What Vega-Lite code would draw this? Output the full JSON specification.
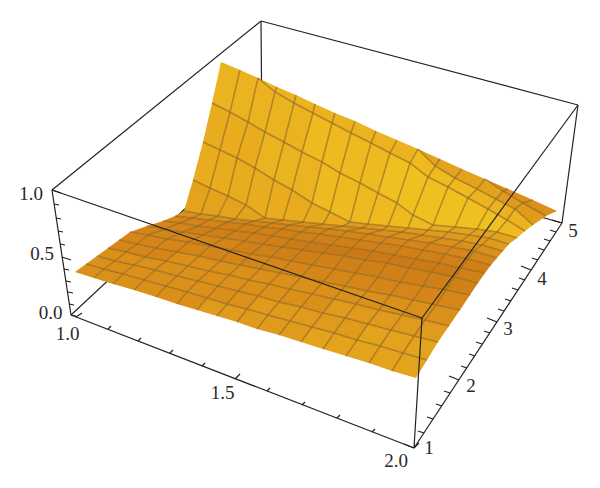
{"$schema":"https://vega.github.io/schema/vega-lite/v6.json","width":600,"height":488,"autosize":{"type":"fit","contains":"padding"},"padding":0,"background":"white","view":{"stroke":null},
"datasets":{
"edges":[
{"part":"back","x":52,"y":190,"x2":261,"y2":21},{"part":"back","x":261,"y":21,"x2":578,"y2":105},{"part":"back","x":261,"y":21,"x2":262,"y2":137},{"part":"back","x":71,"y":315,"x2":262,"y2":137},{"part":"back","x":262,"y":137,"x2":562,"y2":223},
{"part":"front","x":52,"y":190,"x2":422,"y2":318},{"part":"front","x":422,"y":318,"x2":578,"y2":105},{"part":"front","x":422,"y":318,"x2":414,"y2":448},{"part":"front","x":52,"y":190,"x2":71,"y2":315},{"part":"front","x":71,"y":315,"x2":414,"y2":448},{"part":"front","x":414,"y":448,"x2":562,"y2":223},{"part":"front","x":578,"y":105,"x2":562,"y2":223},
{"part":"tick","x":71,"y":315,"x2":76,"y2":316},{"part":"tick","x":69,"y":304,"x2":74,"y2":305},{"part":"tick","x":68,"y":292,"x2":73,"y2":293},{"part":"tick","x":66,"y":281,"x2":71,"y2":282},{"part":"tick","x":64,"y":269,"x2":69,"y2":270},{"part":"tick","x":62,"y":257,"x2":71,"y2":260},{"part":"tick","x":60,"y":244,"x2":65,"y2":245},{"part":"tick","x":58,"y":231,"x2":63,"y2":232},{"part":"tick","x":56,"y":218,"x2":61,"y2":219},{"part":"tick","x":54,"y":204,"x2":59,"y2":205},{"part":"tick","x":52,"y":190,"x2":61,"y2":193},
{"part":"tick","x":76,"y":317,"x2":82,"y2":313},{"part":"tick","x":108,"y":329,"x2":111,"y2":326},{"part":"tick","x":138,"y":341,"x2":141,"y2":338},{"part":"tick","x":170,"y":353,"x2":173,"y2":350},{"part":"tick","x":202,"y":366,"x2":205,"y2":363},{"part":"tick","x":235,"y":379,"x2":240,"y2":374},{"part":"tick","x":267,"y":391,"x2":270,"y2":388},{"part":"tick","x":302,"y":405,"x2":305,"y2":402},{"part":"tick","x":337,"y":418,"x2":340,"y2":415},{"part":"tick","x":372,"y":432,"x2":375,"y2":429},{"part":"tick","x":414,"y":448,"x2":419,"y2":443},
{"part":"tick","x":414,"y":448,"x2":404,"y2":444},{"part":"tick","x":424,"y":433,"x2":418,"y2":431},{"part":"tick","x":433,"y":419,"x2":427,"y2":417},{"part":"tick","x":442,"y":406,"x2":436,"y2":404},{"part":"tick","x":450,"y":393,"x2":444,"y2":391},{"part":"tick","x":459,"y":380,"x2":449,"y2":376},{"part":"tick","x":467,"y":368,"x2":461,"y2":366},{"part":"tick","x":475,"y":356,"x2":469,"y2":354},{"part":"tick","x":482,"y":344,"x2":476,"y2":342},{"part":"tick","x":490,"y":333,"x2":484,"y2":331},{"part":"tick","x":497,"y":322,"x2":487,"y2":318},{"part":"tick","x":504,"y":311,"x2":498,"y2":309},{"part":"tick","x":511,"y":301,"x2":505,"y2":299},{"part":"tick","x":518,"y":290,"x2":512,"y2":288},{"part":"tick","x":525,"y":280,"x2":519,"y2":278},{"part":"tick","x":531,"y":270,"x2":521,"y2":266},{"part":"tick","x":538,"y":260,"x2":532,"y2":258},{"part":"tick","x":544,"y":250,"x2":538,"y2":248},{"part":"tick","x":550,"y":241,"x2":544,"y2":239},{"part":"tick","x":556,"y":232,"x2":550,"y2":230},{"part":"tick","x":562,"y":223,"x2":552,"y2":220}
],
"labels":[{"label":"1.0","x":31,"y":194},{"label":"0.5","x":42,"y":254},{"label":"0.0","x":50.5,"y":313},{"label":"1.0","x":67.5,"y":334},{"label":"1.5","x":222.5,"y":393},{"label":"2.0","x":396,"y":461},{"label":"1","x":429,"y":448},{"label":"2","x":471,"y":386},{"label":"3","x":508,"y":329},{"label":"4","x":542,"y":279},{"label":"5","x":573,"y":231}],
"vertices":[
{"id":0,"i":0,"j":0,"x":75,"y":272},{"id":100,"i":1,"j":0,"x":94,"y":278},{"id":200,"i":2,"j":0,"x":113,"y":284},{"id":300,"i":3,"j":0,"x":134,"y":290},{"id":400,"i":4,"j":0,"x":156,"y":297},{"id":500,"i":5,"j":0,"x":177,"y":304},{"id":600,"i":6,"j":0,"x":197,"y":310},{"id":700,"i":7,"j":0,"x":217,"y":316},{"id":800,"i":8,"j":0,"x":237,"y":322},{"id":900,"i":9,"j":0,"x":257,"y":329},{"id":1000,"i":10,"j":0,"x":279,"y":335},{"id":1100,"i":11,"j":0,"x":301,"y":342},{"id":1200,"i":12,"j":0,"x":323,"y":349},{"id":1300,"i":13,"j":0,"x":346,"y":356},{"id":1400,"i":14,"j":0,"x":369,"y":363},{"id":1500,"i":15,"j":0,"x":392,"y":371},{"id":1600,"i":16,"j":0,"x":416,"y":378},
{"id":1,"i":0,"j":1,"x":86,"y":264},{"id":101,"i":1,"j":1,"x":104,"y":269},{"id":201,"i":2,"j":1,"x":123,"y":274},{"id":301,"i":3,"j":1,"x":144,"y":280},{"id":401,"i":4,"j":1,"x":166,"y":286},{"id":501,"i":5,"j":1,"x":187,"y":292},{"id":601,"i":6,"j":1,"x":207,"y":298},{"id":701,"i":7,"j":1,"x":227,"y":304},{"id":801,"i":8,"j":1,"x":247,"y":309},{"id":901,"i":9,"j":1,"x":268,"y":315},{"id":1001,"i":10,"j":1,"x":290,"y":321},{"id":1101,"i":11,"j":1,"x":312,"y":327},{"id":1201,"i":12,"j":1,"x":334,"y":333},{"id":1301,"i":13,"j":1,"x":357,"y":340},{"id":1401,"i":14,"j":1,"x":380,"y":346},{"id":1501,"i":15,"j":1,"x":403,"y":353},{"id":1601,"i":16,"j":1,"x":427,"y":360},
{"id":2,"i":0,"j":2,"x":97,"y":256},{"id":102,"i":1,"j":2,"x":115,"y":261},{"id":202,"i":2,"j":2,"x":134,"y":265},{"id":302,"i":3,"j":2,"x":155,"y":270},{"id":402,"i":4,"j":2,"x":177,"y":276},{"id":502,"i":5,"j":2,"x":198,"y":281},{"id":602,"i":6,"j":2,"x":218,"y":286},{"id":702,"i":7,"j":2,"x":238,"y":291},{"id":802,"i":8,"j":2,"x":258,"y":296},{"id":902,"i":9,"j":2,"x":279,"y":302},{"id":1002,"i":10,"j":2,"x":301,"y":307},{"id":1102,"i":11,"j":2,"x":323,"y":313},{"id":1202,"i":12,"j":2,"x":345,"y":318},{"id":1302,"i":13,"j":2,"x":368,"y":324},{"id":1402,"i":14,"j":2,"x":391,"y":330},{"id":1502,"i":15,"j":2,"x":414,"y":336},{"id":1602,"i":16,"j":2,"x":438,"y":342},
{"id":3,"i":0,"j":3,"x":108,"y":248},{"id":103,"i":1,"j":3,"x":126,"y":252},{"id":203,"i":2,"j":3,"x":145,"y":257},{"id":303,"i":3,"j":3,"x":166,"y":261},{"id":403,"i":4,"j":3,"x":188,"y":266},{"id":503,"i":5,"j":3,"x":209,"y":271},{"id":603,"i":6,"j":3,"x":229,"y":275},{"id":703,"i":7,"j":3,"x":249,"y":280},{"id":803,"i":8,"j":3,"x":269,"y":284},{"id":903,"i":9,"j":3,"x":290,"y":289},{"id":1003,"i":10,"j":3,"x":312,"y":294},{"id":1103,"i":11,"j":3,"x":334,"y":299},{"id":1203,"i":12,"j":3,"x":356,"y":304},{"id":1303,"i":13,"j":3,"x":379,"y":310},{"id":1403,"i":14,"j":3,"x":402,"y":315},{"id":1503,"i":15,"j":3,"x":425,"y":320},{"id":1603,"i":16,"j":3,"x":449,"y":326},
{"id":4,"i":0,"j":4,"x":119,"y":240},{"id":104,"i":1,"j":4,"x":137,"y":244},{"id":204,"i":2,"j":4,"x":156,"y":248},{"id":304,"i":3,"j":4,"x":177,"y":252},{"id":404,"i":4,"j":4,"x":199,"y":256},{"id":504,"i":5,"j":4,"x":220,"y":261},{"id":604,"i":6,"j":4,"x":240,"y":265},{"id":704,"i":7,"j":4,"x":260,"y":269},{"id":804,"i":8,"j":4,"x":280,"y":273},{"id":904,"i":9,"j":4,"x":301,"y":277},{"id":1004,"i":10,"j":4,"x":323,"y":282},{"id":1104,"i":11,"j":4,"x":345,"y":286},{"id":1204,"i":12,"j":4,"x":367,"y":291},{"id":1304,"i":13,"j":4,"x":390,"y":295},{"id":1404,"i":14,"j":4,"x":413,"y":300},{"id":1504,"i":15,"j":4,"x":436,"y":305},{"id":1604,"i":16,"j":4,"x":460,"y":310},
{"id":5,"i":0,"j":5,"x":130,"y":232},{"id":105,"i":1,"j":5,"x":148,"y":235},{"id":205,"i":2,"j":5,"x":167,"y":239},{"id":305,"i":3,"j":5,"x":188,"y":242},{"id":405,"i":4,"j":5,"x":210,"y":246},{"id":505,"i":5,"j":5,"x":231,"y":250},{"id":605,"i":6,"j":5,"x":251,"y":254},{"id":705,"i":7,"j":5,"x":271,"y":257},{"id":805,"i":8,"j":5,"x":291,"y":261},{"id":905,"i":9,"j":5,"x":312,"y":265},{"id":1005,"i":10,"j":5,"x":334,"y":269},{"id":1105,"i":11,"j":5,"x":355,"y":273},{"id":1205,"i":12,"j":5,"x":378,"y":277},{"id":1305,"i":13,"j":5,"x":400,"y":282},{"id":1405,"i":14,"j":5,"x":423,"y":286},{"id":1505,"i":15,"j":5,"x":446,"y":290},{"id":1605,"i":16,"j":5,"x":470,"y":295},
{"id":6,"i":0,"j":6,"x":147,"y":226},{"id":106,"i":1,"j":6,"x":165,"y":229},{"id":206,"i":2,"j":6,"x":183,"y":232},{"id":306,"i":3,"j":6,"x":203,"y":235},{"id":406,"i":4,"j":6,"x":224,"y":238},{"id":506,"i":5,"j":6,"x":244,"y":241},{"id":606,"i":6,"j":6,"x":263,"y":244},{"id":706,"i":7,"j":6,"x":282,"y":247},{"id":806,"i":8,"j":6,"x":302,"y":250},{"id":906,"i":9,"j":6,"x":323,"y":253},{"id":1006,"i":10,"j":6,"x":344,"y":256},{"id":1106,"i":11,"j":6,"x":365,"y":260},{"id":1206,"i":12,"j":6,"x":387,"y":263},{"id":1306,"i":13,"j":6,"x":409,"y":268},{"id":1406,"i":14,"j":6,"x":431,"y":272},{"id":1506,"i":15,"j":6,"x":454,"y":277},{"id":1606,"i":16,"j":6,"x":478,"y":283},
{"id":7,"i":0,"j":7,"x":163,"y":221},{"id":107,"i":1,"j":7,"x":180,"y":223},{"id":207,"i":2,"j":7,"x":198,"y":226},{"id":307,"i":3,"j":7,"x":216,"y":228},{"id":407,"i":4,"j":7,"x":235,"y":231},{"id":507,"i":5,"j":7,"x":254,"y":233},{"id":607,"i":6,"j":7,"x":272,"y":236},{"id":707,"i":7,"j":7,"x":291,"y":239},{"id":807,"i":8,"j":7,"x":311,"y":242},{"id":907,"i":9,"j":7,"x":331,"y":245},{"id":1007,"i":10,"j":7,"x":352,"y":248},{"id":1107,"i":11,"j":7,"x":373,"y":251},{"id":1207,"i":12,"j":7,"x":394,"y":255},{"id":1307,"i":13,"j":7,"x":416,"y":259},{"id":1407,"i":14,"j":7,"x":439,"y":263},{"id":1507,"i":15,"j":7,"x":461,"y":268},{"id":1607,"i":16,"j":7,"x":485,"y":273},
{"id":8,"i":0,"j":8,"x":175,"y":216},{"id":108,"i":1,"j":8,"x":192,"y":218},{"id":208,"i":2,"j":8,"x":209,"y":220},{"id":308,"i":3,"j":8,"x":227,"y":222},{"id":408,"i":4,"j":8,"x":245,"y":224},{"id":508,"i":5,"j":8,"x":264,"y":227},{"id":608,"i":6,"j":8,"x":282,"y":229},{"id":708,"i":7,"j":8,"x":301,"y":232},{"id":808,"i":8,"j":8,"x":320,"y":234},{"id":908,"i":9,"j":8,"x":340,"y":237},{"id":1008,"i":10,"j":8,"x":360,"y":240},{"id":1108,"i":11,"j":8,"x":381,"y":243},{"id":1208,"i":12,"j":8,"x":402,"y":246},{"id":1308,"i":13,"j":8,"x":423,"y":250},{"id":1408,"i":14,"j":8,"x":445,"y":254},{"id":1508,"i":15,"j":8,"x":468,"y":259},{"id":1608,"i":16,"j":8,"x":491,"y":265},
{"id":9,"i":0,"j":9,"x":184,"y":211},{"id":109,"i":1,"j":9,"x":201,"y":214},{"id":209,"i":2,"j":9,"x":218,"y":216},{"id":309,"i":3,"j":9,"x":235,"y":219},{"id":409,"i":4,"j":9,"x":254,"y":221},{"id":509,"i":5,"j":9,"x":272,"y":223},{"id":609,"i":6,"j":9,"x":290,"y":225},{"id":709,"i":7,"j":9,"x":309,"y":227},{"id":809,"i":8,"j":9,"x":328,"y":229},{"id":909,"i":9,"j":9,"x":347,"y":231},{"id":1009,"i":10,"j":9,"x":368,"y":234},{"id":1109,"i":11,"j":9,"x":388,"y":237},{"id":1209,"i":12,"j":9,"x":409,"y":240},{"id":1309,"i":13,"j":9,"x":430,"y":243},{"id":1409,"i":14,"j":9,"x":452,"y":247},{"id":1509,"i":15,"j":9,"x":474,"y":251},{"id":1609,"i":16,"j":9,"x":497,"y":258},
{"id":10,"i":0,"j":10,"x":193,"y":180},{"id":110,"i":1,"j":10,"x":210,"y":188},{"id":210,"i":2,"j":10,"x":228,"y":196},{"id":310,"i":3,"j":10,"x":246,"y":205},{"id":410,"i":4,"j":10,"x":265,"y":218},{"id":510,"i":5,"j":10,"x":283,"y":220},{"id":610,"i":6,"j":10,"x":303,"y":222},{"id":710,"i":7,"j":10,"x":323,"y":224},{"id":810,"i":8,"j":10,"x":343,"y":226},{"id":910,"i":9,"j":10,"x":362,"y":228},{"id":1010,"i":10,"j":10,"x":382,"y":230},{"id":1110,"i":11,"j":10,"x":402,"y":232},{"id":1210,"i":12,"j":10,"x":422,"y":235},{"id":1310,"i":13,"j":10,"x":442,"y":238},{"id":1410,"i":14,"j":10,"x":462,"y":241},{"id":1510,"i":15,"j":10,"x":482,"y":245},{"id":1610,"i":16,"j":10,"x":503,"y":251},
{"id":11,"i":0,"j":11,"x":203,"y":142},{"id":111,"i":1,"j":11,"x":220,"y":150},{"id":211,"i":2,"j":11,"x":237,"y":158},{"id":311,"i":3,"j":11,"x":255,"y":168},{"id":411,"i":4,"j":11,"x":274,"y":180},{"id":511,"i":5,"j":11,"x":292,"y":190},{"id":611,"i":6,"j":11,"x":312,"y":203},{"id":711,"i":7,"j":11,"x":330,"y":212},{"id":811,"i":8,"j":11,"x":350,"y":222},{"id":911,"i":9,"j":11,"x":368,"y":224},{"id":1011,"i":10,"j":11,"x":388,"y":226},{"id":1111,"i":11,"j":11,"x":408,"y":228},{"id":1211,"i":12,"j":11,"x":428,"y":230},{"id":1311,"i":13,"j":11,"x":448,"y":232},{"id":1411,"i":14,"j":11,"x":469,"y":235},{"id":1511,"i":15,"j":11,"x":489,"y":238},{"id":1611,"i":16,"j":11,"x":509,"y":244},
{"id":12,"i":0,"j":12,"x":212,"y":103},{"id":112,"i":1,"j":12,"x":230,"y":112},{"id":212,"i":2,"j":12,"x":248,"y":122},{"id":312,"i":3,"j":12,"x":265,"y":132},{"id":412,"i":4,"j":12,"x":284,"y":142},{"id":512,"i":5,"j":12,"x":302,"y":152},{"id":612,"i":6,"j":12,"x":322,"y":162},{"id":712,"i":7,"j":12,"x":340,"y":173},{"id":812,"i":8,"j":12,"x":360,"y":183},{"id":912,"i":9,"j":12,"x":378,"y":193},{"id":1012,"i":10,"j":12,"x":397,"y":203},{"id":1112,"i":11,"j":12,"x":413,"y":215},{"id":1212,"i":12,"j":12,"x":433,"y":225},{"id":1312,"i":13,"j":12,"x":455,"y":227},{"id":1412,"i":14,"j":12,"x":477,"y":229},{"id":1512,"i":15,"j":12,"x":497,"y":232},{"id":1612,"i":16,"j":12,"x":517,"y":238},
{"id":13,"i":0,"j":13,"x":221,"y":62},{"id":113,"i":1,"j":13,"x":240,"y":70},{"id":213,"i":2,"j":13,"x":258,"y":78},{"id":313,"i":3,"j":13,"x":275,"y":92},{"id":413,"i":4,"j":13,"x":294,"y":103},{"id":513,"i":5,"j":13,"x":313,"y":113},{"id":613,"i":6,"j":13,"x":332,"y":123},{"id":713,"i":7,"j":13,"x":351,"y":133},{"id":813,"i":8,"j":13,"x":371,"y":143},{"id":913,"i":9,"j":13,"x":390,"y":153},{"id":1013,"i":10,"j":13,"x":410,"y":163},{"id":1113,"i":11,"j":13,"x":428,"y":177},{"id":1213,"i":12,"j":13,"x":448,"y":187},{"id":1313,"i":13,"j":13,"x":468,"y":198},{"id":1413,"i":14,"j":13,"x":488,"y":209},{"id":1513,"i":15,"j":13,"x":507,"y":220},{"id":1613,"i":16,"j":13,"x":525,"y":231},
{"id":214,"i":2,"j":14,"x":258,"y":78},{"id":314,"i":3,"j":14,"x":277,"y":87},{"id":414,"i":4,"j":14,"x":296,"y":95},{"id":514,"i":5,"j":14,"x":315,"y":104},{"id":614,"i":6,"j":14,"x":335,"y":113},{"id":714,"i":7,"j":14,"x":355,"y":121},{"id":814,"i":8,"j":14,"x":376,"y":131},{"id":914,"i":9,"j":14,"x":397,"y":140},{"id":1014,"i":10,"j":14,"x":418,"y":149},{"id":1114,"i":11,"j":14,"x":435,"y":166},{"id":1214,"i":12,"j":14,"x":455,"y":178},{"id":1314,"i":13,"j":14,"x":477,"y":189},{"id":1414,"i":14,"j":14,"x":496,"y":199},{"id":1514,"i":15,"j":14,"x":515,"y":209},{"id":1614,"i":16,"j":14,"x":533,"y":225},
{"id":1015,"i":10,"j":15,"x":418,"y":149},{"id":1115,"i":11,"j":15,"x":440,"y":159},{"id":1215,"i":12,"j":15,"x":462,"y":169},{"id":1315,"i":13,"j":15,"x":485,"y":179},{"id":1415,"i":14,"j":15,"x":503,"y":191},{"id":1515,"i":15,"j":15,"x":523,"y":203},{"id":1615,"i":16,"j":15,"x":546,"y":216},
{"id":1316,"i":13,"j":16,"x":485,"y":179},{"id":1416,"i":14,"j":16,"x":508,"y":189},{"id":1516,"i":15,"j":16,"x":533,"y":200},{"id":1616,"i":16,"j":16,"x":557,"y":211}
],
"cells":[
{"c":0,"shade":3,"v":[0,100,101,1]},{"c":100,"shade":3,"v":[100,200,201,101]},{"c":200,"shade":3,"v":[200,300,301,201]},{"c":300,"shade":3,"v":[300,400,401,301]},{"c":400,"shade":3,"v":[400,500,501,401]},{"c":500,"shade":3,"v":[500,600,601,501]},{"c":600,"shade":4,"v":[600,700,701,601]},{"c":700,"shade":4,"v":[700,800,801,701]},{"c":800,"shade":4,"v":[800,900,901,801]},{"c":900,"shade":4,"v":[900,1000,1001,901]},{"c":1000,"shade":4,"v":[1000,1100,1101,1001]},{"c":1100,"shade":5,"v":[1100,1200,1201,1101]},{"c":1200,"shade":5,"v":[1200,1300,1301,1201]},{"c":1300,"shade":5,"v":[1300,1400,1401,1301]},{"c":1400,"shade":5,"v":[1400,1500,1501,1401]},{"c":1500,"shade":5,"v":[1500,1600,1601,1501]},
{"c":1,"shade":3,"v":[1,101,102,2]},{"c":101,"shade":3,"v":[101,201,202,102]},{"c":201,"shade":3,"v":[201,301,302,202]},{"c":301,"shade":3,"v":[301,401,402,302]},{"c":401,"shade":3,"v":[401,501,502,402]},{"c":501,"shade":3,"v":[501,601,602,502]},{"c":601,"shade":3,"v":[601,701,702,602]},{"c":701,"shade":3,"v":[701,801,802,702]},{"c":801,"shade":4,"v":[801,901,902,802]},{"c":901,"shade":4,"v":[901,1001,1002,902]},{"c":1001,"shade":4,"v":[1001,1101,1102,1002]},{"c":1101,"shade":4,"v":[1101,1201,1202,1102]},{"c":1201,"shade":4,"v":[1201,1301,1302,1202]},{"c":1301,"shade":5,"v":[1301,1401,1402,1302]},{"c":1401,"shade":5,"v":[1401,1501,1502,1402]},{"c":1501,"shade":5,"v":[1501,1601,1602,1502]},
{"c":2,"shade":3,"v":[2,102,103,3]},{"c":102,"shade":3,"v":[102,202,203,103]},{"c":202,"shade":3,"v":[202,302,303,203]},{"c":302,"shade":3,"v":[302,402,403,303]},{"c":402,"shade":3,"v":[402,502,503,403]},{"c":502,"shade":3,"v":[502,602,603,503]},{"c":602,"shade":3,"v":[602,702,703,603]},{"c":702,"shade":3,"v":[702,802,803,703]},{"c":802,"shade":3,"v":[802,902,903,803]},{"c":902,"shade":3,"v":[902,1002,1003,903]},{"c":1002,"shade":3,"v":[1002,1102,1103,1003]},{"c":1102,"shade":4,"v":[1102,1202,1203,1103]},{"c":1202,"shade":4,"v":[1202,1302,1303,1203]},{"c":1302,"shade":4,"v":[1302,1402,1403,1303]},{"c":1402,"shade":4,"v":[1402,1502,1503,1403]},{"c":1502,"shade":4,"v":[1502,1602,1603,1503]},
{"c":3,"shade":2,"v":[3,103,104,4]},{"c":103,"shade":2,"v":[103,203,204,104]},{"c":203,"shade":2,"v":[203,303,304,204]},{"c":303,"shade":3,"v":[303,403,404,304]},{"c":403,"shade":3,"v":[403,503,504,404]},{"c":503,"shade":3,"v":[503,603,604,504]},{"c":603,"shade":3,"v":[603,703,704,604]},{"c":703,"shade":3,"v":[703,803,804,704]},{"c":803,"shade":3,"v":[803,903,904,804]},{"c":903,"shade":3,"v":[903,1003,1004,904]},{"c":1003,"shade":3,"v":[1003,1103,1104,1004]},{"c":1103,"shade":3,"v":[1103,1203,1204,1104]},{"c":1203,"shade":3,"v":[1203,1303,1304,1204]},{"c":1303,"shade":3,"v":[1303,1403,1404,1304]},{"c":1403,"shade":3,"v":[1403,1503,1504,1404]},{"c":1503,"shade":3,"v":[1503,1603,1604,1504]},
{"c":4,"shade":2,"v":[4,104,105,5]},{"c":104,"shade":2,"v":[104,204,205,105]},{"c":204,"shade":2,"v":[204,304,305,205]},{"c":304,"shade":2,"v":[304,404,405,305]},{"c":404,"shade":2,"v":[404,504,505,405]},{"c":504,"shade":2,"v":[504,604,605,505]},{"c":604,"shade":2,"v":[604,704,705,605]},{"c":704,"shade":2,"v":[704,804,805,705]},{"c":804,"shade":2,"v":[804,904,905,805]},{"c":904,"shade":2,"v":[904,1004,1005,905]},{"c":1004,"shade":2,"v":[1004,1104,1105,1005]},{"c":1104,"shade":2,"v":[1104,1204,1205,1105]},{"c":1204,"shade":2,"v":[1204,1304,1305,1205]},{"c":1304,"shade":2,"v":[1304,1404,1405,1305]},{"c":1404,"shade":2,"v":[1404,1504,1505,1405]},{"c":1504,"shade":2,"v":[1504,1604,1605,1505]},
{"c":5,"shade":2,"v":[5,105,106,6]},{"c":105,"shade":2,"v":[105,205,206,106]},{"c":205,"shade":2,"v":[205,305,306,206]},{"c":305,"shade":2,"v":[305,405,406,306]},{"c":405,"shade":2,"v":[405,505,506,406]},{"c":505,"shade":1,"v":[505,605,606,506]},{"c":605,"shade":1,"v":[605,705,706,606]},{"c":705,"shade":1,"v":[705,805,806,706]},{"c":805,"shade":1,"v":[805,905,906,806]},{"c":905,"shade":1,"v":[905,1005,1006,906]},{"c":1005,"shade":1,"v":[1005,1105,1106,1006]},{"c":1105,"shade":1,"v":[1105,1205,1206,1106]},{"c":1205,"shade":1,"v":[1205,1305,1306,1206]},{"c":1305,"shade":1,"v":[1305,1405,1406,1306]},{"c":1405,"shade":1,"v":[1405,1505,1506,1406]},{"c":1505,"shade":1,"v":[1505,1605,1606,1506]},
{"c":6,"shade":2,"v":[6,106,107,7]},{"c":106,"shade":2,"v":[106,206,207,107]},{"c":206,"shade":1,"v":[206,306,307,207]},{"c":306,"shade":1,"v":[306,406,407,307]},{"c":406,"shade":1,"v":[406,506,507,407]},{"c":506,"shade":1,"v":[506,606,607,507]},{"c":606,"shade":1,"v":[606,706,707,607]},{"c":706,"shade":0,"v":[706,806,807,707]},{"c":806,"shade":0,"v":[806,906,907,807]},{"c":906,"shade":0,"v":[906,1006,1007,907]},{"c":1006,"shade":0,"v":[1006,1106,1107,1007]},{"c":1106,"shade":0,"v":[1106,1206,1207,1107]},{"c":1206,"shade":0,"v":[1206,1306,1307,1207]},{"c":1306,"shade":0,"v":[1306,1406,1407,1307]},{"c":1406,"shade":0,"v":[1406,1506,1507,1407]},{"c":1506,"shade":1,"v":[1506,1606,1607,1507]},
{"c":7,"shade":2,"v":[7,107,108,8]},{"c":107,"shade":2,"v":[107,207,208,108]},{"c":207,"shade":2,"v":[207,307,308,208]},{"c":307,"shade":1,"v":[307,407,408,308]},{"c":407,"shade":1,"v":[407,507,508,408]},{"c":507,"shade":1,"v":[507,607,608,508]},{"c":607,"shade":1,"v":[607,707,708,608]},{"c":707,"shade":1,"v":[707,807,808,708]},{"c":807,"shade":1,"v":[807,907,908,808]},{"c":907,"shade":1,"v":[907,1007,1008,908]},{"c":1007,"shade":1,"v":[1007,1107,1108,1008]},{"c":1107,"shade":1,"v":[1107,1207,1208,1108]},{"c":1207,"shade":1,"v":[1207,1307,1308,1208]},{"c":1307,"shade":1,"v":[1307,1407,1408,1308]},{"c":1407,"shade":1,"v":[1407,1507,1508,1408]},{"c":1507,"shade":1,"v":[1507,1607,1608,1508]},
{"c":8,"shade":3,"v":[8,108,109,9]},{"c":108,"shade":3,"v":[108,208,209,109]},{"c":208,"shade":3,"v":[208,308,309,209]},{"c":308,"shade":2,"v":[308,408,409,309]},{"c":408,"shade":2,"v":[408,508,509,409]},{"c":508,"shade":2,"v":[508,608,609,509]},{"c":608,"shade":2,"v":[608,708,709,609]},{"c":708,"shade":2,"v":[708,808,809,709]},{"c":808,"shade":2,"v":[808,908,909,809]},{"c":908,"shade":2,"v":[908,1008,1009,909]},{"c":1008,"shade":2,"v":[1008,1108,1109,1009]},{"c":1108,"shade":2,"v":[1108,1208,1209,1109]},{"c":1208,"shade":2,"v":[1208,1308,1309,1209]},{"c":1308,"shade":2,"v":[1308,1408,1409,1309]},{"c":1408,"shade":2,"v":[1408,1508,1509,1409]},{"c":1508,"shade":2,"v":[1508,1608,1609,1509]},
{"c":9,"shade":5,"v":[9,109,110,10]},{"c":109,"shade":5,"v":[109,209,210,110]},{"c":209,"shade":5,"v":[209,309,310,210]},{"c":309,"shade":5,"v":[309,409,410,310]},{"c":409,"shade":3,"v":[409,509,510,410]},{"c":509,"shade":3,"v":[509,609,610,510]},{"c":609,"shade":3,"v":[609,709,710,610]},{"c":709,"shade":3,"v":[709,809,810,710]},{"c":809,"shade":3,"v":[809,909,910,810]},{"c":909,"shade":3,"v":[909,1009,1010,910]},{"c":1009,"shade":3,"v":[1009,1109,1110,1010]},{"c":1109,"shade":3,"v":[1109,1209,1210,1110]},{"c":1209,"shade":3,"v":[1209,1309,1310,1210]},{"c":1309,"shade":3,"v":[1309,1409,1410,1310]},{"c":1409,"shade":3,"v":[1409,1509,1510,1410]},{"c":1509,"shade":3,"v":[1509,1609,1610,1510]},
{"c":10,"shade":6,"v":[10,110,111,11]},{"c":110,"shade":6,"v":[110,210,211,111]},{"c":210,"shade":6,"v":[210,310,311,211]},{"c":310,"shade":6,"v":[310,410,411,311]},{"c":410,"shade":6,"v":[410,510,511,411]},{"c":510,"shade":6,"v":[510,610,611,511]},{"c":610,"shade":6,"v":[610,710,711,611]},{"c":710,"shade":6,"v":[710,810,811,711]},{"c":810,"shade":4,"v":[810,910,911,811]},{"c":910,"shade":4,"v":[910,1010,1011,911]},{"c":1010,"shade":4,"v":[1010,1110,1111,1011]},{"c":1110,"shade":4,"v":[1110,1210,1211,1111]},{"c":1210,"shade":4,"v":[1210,1310,1311,1211]},{"c":1310,"shade":4,"v":[1310,1410,1411,1311]},{"c":1410,"shade":4,"v":[1410,1510,1511,1411]},{"c":1510,"shade":4,"v":[1510,1610,1611,1511]},
{"c":11,"shade":6,"v":[11,111,112,12]},{"c":111,"shade":6,"v":[111,211,212,112]},{"c":211,"shade":6,"v":[211,311,312,212]},{"c":311,"shade":7,"v":[311,411,412,312]},{"c":411,"shade":7,"v":[411,511,512,412]},{"c":511,"shade":7,"v":[511,611,612,512]},{"c":611,"shade":8,"v":[611,711,712,612]},{"c":711,"shade":8,"v":[711,811,812,712]},{"c":811,"shade":8,"v":[811,911,912,812]},{"c":911,"shade":8,"v":[911,1011,1012,912]},{"c":1011,"shade":8,"v":[1011,1111,1112,1012]},{"c":1111,"shade":8,"v":[1111,1211,1212,1112]},{"c":1211,"shade":6,"v":[1211,1311,1312,1212]},{"c":1311,"shade":5,"v":[1311,1411,1412,1312]},{"c":1411,"shade":5,"v":[1411,1511,1512,1412]},{"c":1511,"shade":5,"v":[1511,1611,1612,1512]},
{"c":12,"shade":7,"v":[12,112,113,13]},{"c":112,"shade":7,"v":[112,212,213,113]},{"c":212,"shade":7,"v":[212,312,313,213]},{"c":312,"shade":7,"v":[312,412,413,313]},{"c":412,"shade":7,"v":[412,512,513,413]},{"c":512,"shade":8,"v":[512,612,613,513]},{"c":612,"shade":8,"v":[612,712,713,613]},{"c":712,"shade":8,"v":[712,812,813,713]},{"c":812,"shade":8,"v":[812,912,913,813]},{"c":912,"shade":9,"v":[912,1012,1013,913]},{"c":1012,"shade":9,"v":[1012,1112,1113,1013]},{"c":1112,"shade":9,"v":[1112,1212,1213,1113]},{"c":1212,"shade":9,"v":[1212,1312,1313,1213]},{"c":1312,"shade":9,"v":[1312,1412,1413,1313]},{"c":1412,"shade":9,"v":[1412,1512,1513,1413]},{"c":1512,"shade":8,"v":[1512,1612,1613,1513]},
{"c":213,"shade":7,"v":[213,313,314,214]},{"c":313,"shade":7,"v":[313,413,414,314]},{"c":413,"shade":7,"v":[413,513,514,414]},{"c":513,"shade":7,"v":[513,613,614,514]},{"c":613,"shade":7,"v":[613,713,714,614]},{"c":713,"shade":7,"v":[713,813,814,714]},{"c":813,"shade":7,"v":[813,913,914,814]},{"c":913,"shade":7,"v":[913,1013,1014,914]},{"c":1013,"shade":8,"v":[1013,1113,1114,1014]},{"c":1113,"shade":8,"v":[1113,1213,1214,1114]},{"c":1213,"shade":8,"v":[1213,1313,1314,1214]},{"c":1313,"shade":7,"v":[1313,1413,1414,1314]},{"c":1413,"shade":7,"v":[1413,1513,1514,1414]},{"c":1513,"shade":7,"v":[1513,1613,1614,1514]},
{"c":1014,"shade":5,"v":[1014,1114,1115,1015]},{"c":1114,"shade":5,"v":[1114,1214,1215,1115]},{"c":1214,"shade":5,"v":[1214,1314,1315,1215]},{"c":1314,"shade":5,"v":[1314,1414,1415,1315]},{"c":1414,"shade":4,"v":[1414,1514,1515,1415]},{"c":1514,"shade":4,"v":[1514,1614,1615,1515]},
{"c":1315,"shade":3,"v":[1315,1415,1416,1316]},{"c":1415,"shade":3,"v":[1415,1515,1516,1416]},{"c":1515,"shade":3,"v":[1515,1615,1616,1516]}
]},
"encoding":{"x":{"field":"x","type":"quantitative","scale":{"domain":[0,600],"nice":false,"zero":false},"axis":null},"y":{"field":"y","type":"quantitative","scale":{"domain":[488,0],"nice":false,"zero":false},"axis":null}},
"layer":[
{"data":{"name":"edges"},"transform":[{"filter":"datum.part=='back'"}],"mark":{"type":"rule","color":"#222","strokeWidth":1.2},"encoding":{"x2":{"field":"x2"},"y2":{"field":"y2"}}},
{"data":{"name":"cells"},"transform":[{"flatten":["v"]},{"lookup":"v","from":{"data":{"name":"vertices"},"key":"id","fields":["x","y"]}}],"mark":{"type":"line","filled":true,"strokeWidth":0,"order":null},"encoding":{"detail":{"field":"c","type":"nominal"},"fill":{"field":"shade","type":"quantitative","legend":null,"scale":{"domain":[0,2,4,6,8,10],"range":["#cc7a18","#d68618","#e09a1c","#e8ac1e","#eeba20","#f2c623"]}}}},
{"data":{"name":"vertices"},"transform":[{"filter":"datum.j>=1 && datum.j<=15 && !(datum.j==15&&datum.i<13) && !(datum.j==14&&datum.i<10) && !(datum.j==13&&datum.i<2)"}],"mark":{"type":"line","stroke":"#8f651c","strokeWidth":1.5,"strokeOpacity":0.65},"encoding":{"detail":{"field":"j","type":"nominal"},"order":{"field":"i","type":"quantitative"}}},
{"data":{"name":"vertices"},"transform":[{"filter":"datum.i>=1 && datum.i<=15"}],"mark":{"type":"line","stroke":"#8f651c","strokeWidth":1.5,"strokeOpacity":0.65},"encoding":{"detail":{"field":"i","type":"nominal"},"order":{"field":"j","type":"quantitative"}}},
{"data":{"name":"edges"},"transform":[{"filter":"datum.part!='back'"}],"mark":{"type":"rule","color":"#222","strokeWidth":1.2},"encoding":{"x2":{"field":"x2"},"y2":{"field":"y2"}}},
{"data":{"name":"labels"},"mark":{"type":"text","font":"Liberation Serif","fontSize":19,"color":"#2a2a2a","align":"center","baseline":"middle"},"encoding":{"text":{"field":"label","type":"nominal"}}}
]}
